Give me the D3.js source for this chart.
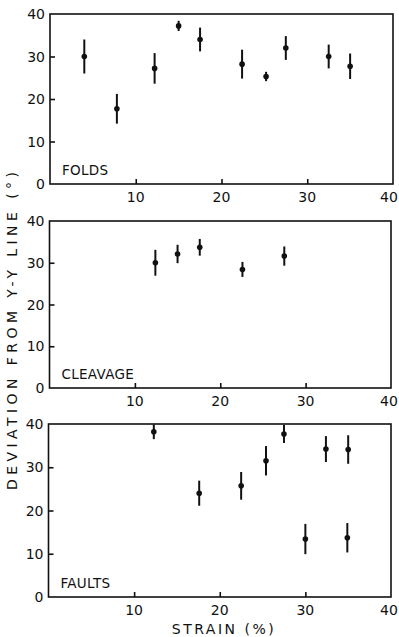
<!DOCTYPE html>
<html>
<head>
<meta charset="utf-8">
<script src="https://cdn.jsdelivr.net/npm/d3@7"></script>
<style>
  body { margin: 0; background: #fff; }
  text { font-family: "DejaVu Sans", sans-serif; fill: #111; }
</style>
</head>
<body>
<svg id="chart" width="399" height="637"></svg>
<script>
// Data: strain (%), deviation (deg), half error bar (deg)
const foldsStrain = [4, 7.8, 12.2, 15, 17.5, 22.4, 25.2, 27.5, 32.5, 35];
const foldsDev    = [30, 17.7, 27.2, 37.2, 34, 28.2, 25.3, 32, 30, 27.7];
const foldsErr    = [4, 3.5, 3.6, 1.2, 2.8, 3.4, 1.1, 2.8, 2.8, 3];

const cleavageStrain = [12.4, 15, 17.6, 22.6, 27.5];
const cleavageDev    = [30, 32.1, 33.7, 28.4, 31.6];
const cleavageErr    = [3.1, 2.2, 2, 1.8, 2.3];

const faultsStrain = [12.3, 17.6, 22.5, 25.4, 27.5, 30, 32.4, 35, 34.9];
const faultsDev    = [38.2, 24, 25.7, 31.5, 37.7, 13.4, 34.2, 34.1, 13.7];
const faultsErr    = [1.7, 2.9, 3.2, 3.4, 2.1, 3.5, 3, 3.3, 3.4];

const xTicks = [10, 20, 30, 40];
const yTicks = [0, 10, 20, 30, 40];
const xDomain = [0, 40];
const yDomain = [0, 40];

const panels = [
  {name: "FOLDS",    strain: foldsStrain,    dev: foldsDev,    err: foldsErr,    top: 14,  bottom: 184, left: 50, right: 393},
  {name: "CLEAVAGE", strain: cleavageStrain, dev: cleavageDev, err: cleavageErr, top: 221, bottom: 388, left: 49.5, right: 391},
  {name: "FAULTS",   strain: faultsStrain,   dev: faultsDev,   err: faultsErr,   top: 424, bottom: 597, left: 48.5, right: 391}
];

const svg = d3.select("#chart");
const ink = "#111";

panels.forEach((p) => {
  const x = d3.scaleLinear().domain(xDomain).range([p.left, p.right]);
  const y = d3.scaleLinear().domain(yDomain).range([p.bottom, p.top]);
  const g = svg.append("g");

  // frame
  g.append("rect")
    .attr("x", x(0)).attr("y", y(40))
    .attr("width", x(40) - x(0)).attr("height", y(0) - y(40))
    .attr("fill", "none").attr("stroke", ink).attr("stroke-width", 1.6);

  // inward ticks
  const xAxis = d3.axisTop(x).tickValues([10, 20, 30]).tickSize(5).tickFormat("");
  g.append("g").attr("transform", `translate(0,${y(0)})`).call(xAxis)
    .call((s) => s.select(".domain").remove())
    .selectAll("line").attr("stroke", ink).attr("stroke-width", 1.6);

  const yAxis = d3.axisRight(y).tickValues([10, 20, 30]).tickSize(5).tickFormat("");
  g.append("g").attr("transform", `translate(${x(0)},0)`).call(yAxis)
    .call((s) => s.select(".domain").remove())
    .selectAll("line").attr("stroke", ink).attr("stroke-width", 1.6);

  // tick labels
  g.selectAll(".ylab").data(yTicks).enter().append("text")
    .attr("x", x(0) - 5)
    .attr("y", (d) => y(d) + 5)
    .attr("text-anchor", "end")
    .attr("font-size", "14px")
    .text((d) => d);

  g.selectAll(".xlab").data(xTicks).enter().append("text")
    .attr("x", (d) => d === 40 ? Math.min(x(d), 389) : x(d))
    .attr("y", y(0) + 18)
    .attr("text-anchor", "middle")
    .attr("font-size", "14px")
    .text((d) => d);

  // panel name
  g.append("text")
    .attr("x", x(1.4))
    .attr("y", y(0) - 9)
    .attr("font-size", "13.5px")
    .attr("letter-spacing", "0.3px")
    .text(p.name);

  const pts = p.strain.map((s, i) => ({s: s, v: p.dev[i], e: p.err[i]}));

  g.selectAll(".err").data(pts).enter().append("line")
    .attr("x1", (d) => x(d.s)).attr("x2", (d) => x(d.s))
    .attr("y1", (d) => y(Math.min(40, d.v + d.e)))
    .attr("y2", (d) => y(d.v - d.e))
    .attr("stroke", ink).attr("stroke-width", 2);

  g.selectAll(".pt").data(pts).enter().append("circle")
    .attr("cx", (d) => x(d.s)).attr("cy", (d) => y(d.v))
    .attr("r", 2.8).attr("fill", ink);
});

// axis titles
svg.append("text")
  .attr("x", 224).attr("y", 634)
  .attr("text-anchor", "middle")
  .attr("font-size", "14px")
  .attr("letter-spacing", "2.5px")
  .text("STRAIN (%)");

svg.append("text")
  .attr("transform", "translate(17,331) rotate(-90)")
  .attr("text-anchor", "middle")
  .attr("font-size", "14px")
  .attr("textLength", 318)
  .attr("lengthAdjust", "spacing")
  .text("DEVIATION FROM Y-Y LINE (°)");
</script>
</body>
</html>
